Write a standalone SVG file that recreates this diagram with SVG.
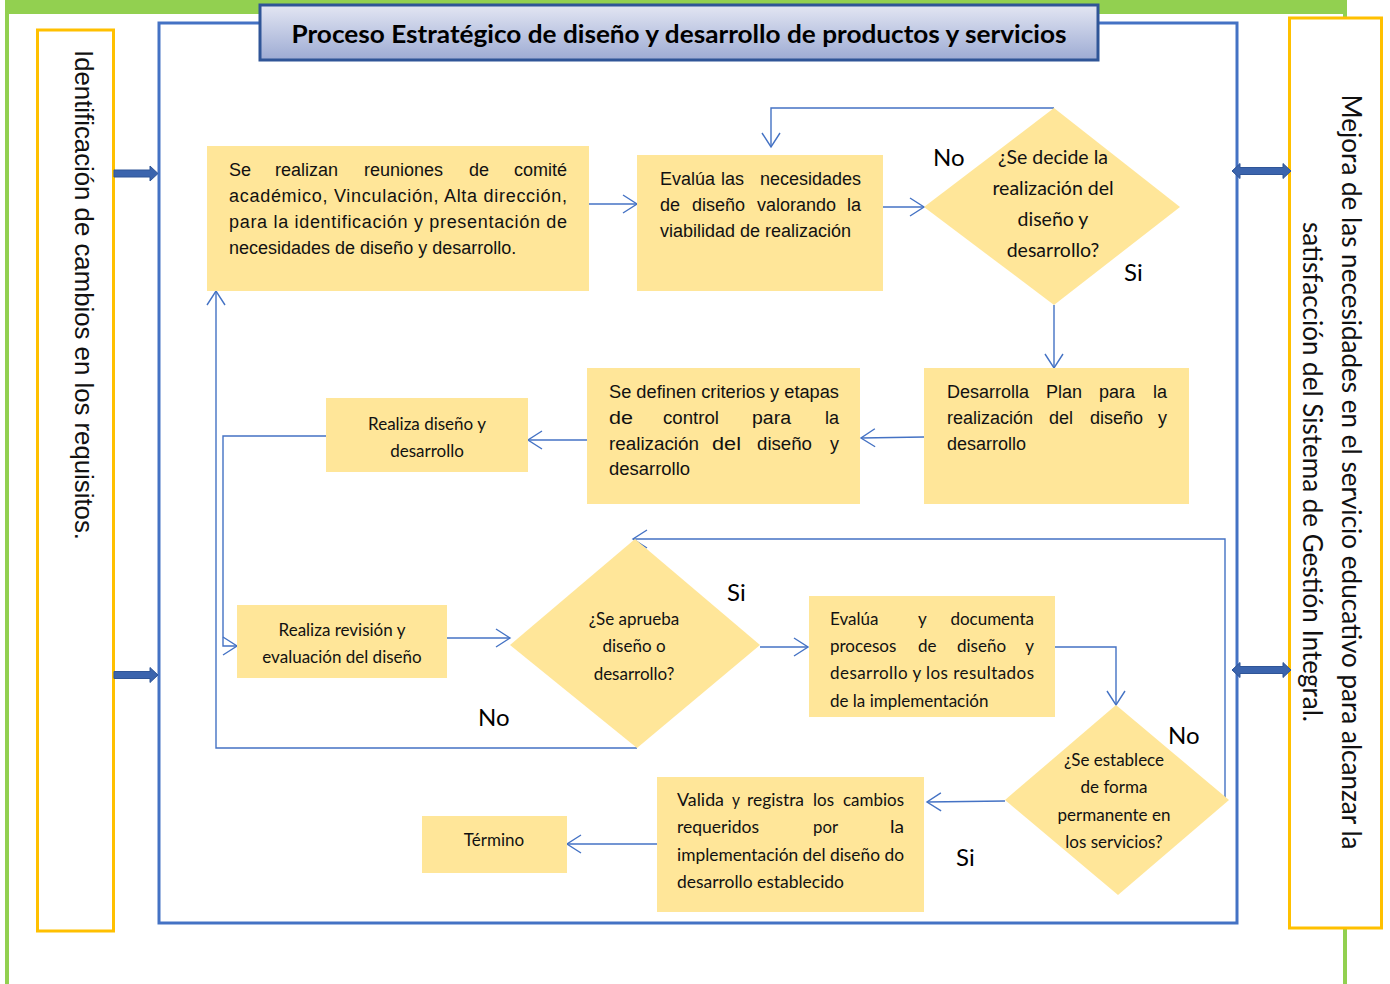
<svg xmlns="http://www.w3.org/2000/svg" width="1390" height="984" viewBox="0 0 1390 984">
<defs>
<style>
.node{fill:#FFE699;}
.conn{fill:none;stroke:#4472C4;stroke-width:1.4;marker-end:url(#arr);}
.ar{font-family:"Liberation Sans",Arial,sans-serif;font-size:18px;fill:#111;}
.ca{font-family:Lato,"Open Sans",sans-serif;font-size:17px;fill:#111;}
.lbl{font-family:Lato,"Open Sans",sans-serif;font-size:24px;fill:#000;}
.side{fill:#fff;stroke:#FFC000;stroke-width:3;}
.thick{fill:#3B64AD;stroke:#2F5597;stroke-width:1;}
</style>
<linearGradient id="tg" x1="0" y1="0" x2="0" y2="1">
<stop offset="0" stop-color="#E3E6F3"/>
<stop offset="1" stop-color="#9DABD3"/>
</linearGradient>
<marker id="arr" markerUnits="userSpaceOnUse" markerWidth="18" markerHeight="22" refX="15" refY="11" orient="auto">
<path d="M1,2 L15,11 L1,20" fill="none" stroke="#4472C4" stroke-width="1.4"/>
</marker>
<clipPath id="evclip"><rect x="809" y="596" width="246" height="121"/></clipPath>
</defs>

<g id="frame">
<rect x="5" y="0" width="1342" height="14" fill="#92D050"/>
<rect x="5" y="0" width="4" height="984" fill="#92D050"/>
<rect x="1343" y="0" width="4" height="984" fill="#92D050"/>
<rect x="159" y="23" width="1078" height="900" fill="none" stroke="#4472C4" stroke-width="3"/>
</g>

<g id="side-left">
<rect class="side" x="37.5" y="30" width="76" height="901"/>
<text class="ar" style="font-size:26px" transform="translate(75,50) rotate(90)" textLength="490" lengthAdjust="spacingAndGlyphs">Identificación de cambios en los requisitos.</text>
</g>

<g id="side-right">
<rect class="side" x="1289.5" y="18" width="92" height="910"/>
<text class="ca" style="font-size:27px" text-anchor="middle" transform="translate(1342,472) rotate(90)" textLength="755" lengthAdjust="spacingAndGlyphs">Mejora de las necesidades en el servicio educativo para alcanzar la</text>
<text class="ca" style="font-size:27px" text-anchor="middle" transform="translate(1303,472) rotate(90)" textLength="500" lengthAdjust="spacingAndGlyphs">satisfacción del Sistema de Gestión Integral.</text>
</g>

<g id="title">
<rect x="260" y="5" width="838" height="55" fill="url(#tg)" stroke="#2F5597" stroke-width="3"/>
<text x="679" y="43" text-anchor="middle" font-family="Lato, 'Open Sans', sans-serif" font-weight="bold" font-size="25" fill="#000" textLength="775" lengthAdjust="spacingAndGlyphs">Proceso Estratégico de diseño y desarrollo de productos y servicios</text>
</g>

<g id="side-arrows">
<polygon class="thick" points="114,170 150,170 150,166 158,173.5 150,181 150,177 114,177"/>
<polygon class="thick" points="114,671.5 150,671.5 150,667.5 158,675 150,682.5 150,678.5 114,678.5"/>
<polygon class="thick" points="1232,171 1240,163.5 1240,167.5 1283,167.5 1283,163.5 1291,171 1283,178.5 1283,174.5 1240,174.5 1240,178.5"/>
<polygon class="thick" points="1232,670 1240,662.5 1240,666.5 1283,666.5 1283,662.5 1291,670 1283,677.5 1283,673.5 1240,673.5 1240,677.5"/>
</g>

<g id="connectors">
<line class="conn" x1="589" y1="204" x2="637" y2="204"/>
<line class="conn" x1="883" y1="207" x2="924" y2="207"/>
<polyline class="conn" points="1054,108 771,108 771,147"/>
<line class="conn" x1="1054" y1="305" x2="1054" y2="368"/>
<line class="conn" x1="924" y1="437" x2="861" y2="438"/>
<line class="conn" x1="587" y1="440" x2="528" y2="440"/>
<polyline class="conn" points="326,436 223,436 223,646 237,646"/>
<line class="conn" x1="447" y1="638" x2="510" y2="638"/>
<polyline class="conn" points="637,748 216,748 216,291"/>
<line class="conn" x1="760" y1="647" x2="808" y2="647"/>
<polyline class="conn" points="1055,647 1116,647 1116,705"/>
<polyline class="conn" points="1225,802 1225,539 633,539"/>
<line class="conn" x1="1005" y1="801" x2="927" y2="802"/>
<line class="conn" x1="657" y1="844" x2="567" y2="844"/>
</g>

<g id="n-reuniones">
<rect class="node" x="207" y="146" width="382" height="145"/>
<text class="ar" y="176"><tspan x="229">Se</tspan><tspan x="275">realizan</tspan><tspan x="364">reuniones</tspan><tspan x="469">de</tspan><tspan x="567" text-anchor="end">comité</tspan></text>
<text class="ar" x="229" y="202" textLength="338" lengthAdjust="spacing">académico, Vinculación, Alta dirección,</text>
<text class="ar" x="229" y="228" textLength="338" lengthAdjust="spacing">para la identificación y presentación de</text>
<text class="ar" x="229" y="254">necesidades de diseño y desarrollo.</text>
</g>

<g id="n-evalua">
<rect class="node" x="637" y="155" width="246" height="136"/>
<text class="ar" y="185"><tspan x="660">Evalúa</tspan><tspan x="721">las</tspan><tspan x="861" text-anchor="end">necesidades</tspan></text>
<text class="ar" y="211"><tspan x="660">de</tspan><tspan x="692">diseño</tspan><tspan x="757">valorando</tspan><tspan x="861" text-anchor="end">la</tspan></text>
<text class="ar" x="660" y="237">viabilidad de realización</text>
</g>

<g id="n-decide">
<polygon class="node" points="1054,108 1180,207 1054,305 924,207"/>
<text class="ca" style="font-size:19.5px" text-anchor="middle"><tspan x="1053" y="164">¿Se decide la</tspan><tspan x="1053" y="195">realización del</tspan><tspan x="1053" y="226">diseño y</tspan><tspan x="1053" y="257">desarrollo?</tspan></text>
</g>

<g id="n-plan">
<rect class="node" x="924" y="368" width="265" height="136"/>
<text class="ar" y="398"><tspan x="947">Desarrolla</tspan><tspan x="1046">Plan</tspan><tspan x="1099">para</tspan><tspan x="1167" text-anchor="end">la</tspan></text>
<text class="ar" y="424"><tspan x="947">realización</tspan><tspan x="1049">del</tspan><tspan x="1090">diseño</tspan><tspan x="1167" text-anchor="end">y</tspan></text>
<text class="ar" x="947" y="450">desarrollo</text>
</g>

<g id="n-criterios">
<rect class="node" x="587" y="368" width="273" height="136"/>
<text class="ar" x="609" y="398" textLength="230" lengthAdjust="spacingAndGlyphs">Se definen criterios y etapas</text>
<text class="ar" y="424"><tspan x="609" textLength="24" lengthAdjust="spacingAndGlyphs">de</tspan><tspan x="663" textLength="56" lengthAdjust="spacingAndGlyphs">control</tspan><tspan x="752" textLength="39" lengthAdjust="spacingAndGlyphs">para</tspan><tspan x="825" textLength="14" lengthAdjust="spacingAndGlyphs">la</tspan></text>
<text class="ar" y="450"><tspan x="609" textLength="90" lengthAdjust="spacingAndGlyphs">realización</tspan><tspan x="712" textLength="29" lengthAdjust="spacingAndGlyphs">del</tspan><tspan x="757" textLength="55" lengthAdjust="spacingAndGlyphs">diseño</tspan><tspan x="830" textLength="9" lengthAdjust="spacingAndGlyphs">y</tspan></text>
<text class="ar" x="609" y="475" textLength="81" lengthAdjust="spacingAndGlyphs">desarrollo</text>
</g>

<g id="n-realiza">
<rect class="node" x="326" y="398" width="202" height="74"/>
<text class="ca" text-anchor="middle"><tspan x="427" y="430">Realiza diseño y</tspan><tspan x="427" y="457">desarrollo</tspan></text>
</g>

<g id="n-revision">
<rect class="node" x="237" y="605" width="210" height="73"/>
<text class="ca" text-anchor="middle"><tspan x="342" y="636">Realiza revisión y</tspan><tspan x="342" y="663">evaluación del diseño</tspan></text>
</g>

<g id="n-aprueba">
<polygon class="node" points="635,539 760,645 637,748 510,645"/>
<text class="ca" text-anchor="middle"><tspan x="634" y="625">¿Se aprueba</tspan><tspan x="634" y="652">diseño o</tspan><tspan x="634" y="680">desarrollo?</tspan></text>
</g>

<g id="n-documenta">
<rect class="node" x="809" y="596" width="246" height="121"/>
<g clip-path="url(#evclip)">
<text class="ca" y="625"><tspan x="830">Evalúa</tspan><tspan x="918">y</tspan><tspan x="1034" text-anchor="end">documenta</tspan></text>
<text class="ca" y="652"><tspan x="830">procesos</tspan><tspan x="918">de</tspan><tspan x="957">diseño</tspan><tspan x="1034" text-anchor="end">y</tspan></text>
<text class="ca" x="830" y="679" textLength="204" lengthAdjust="spacing">desarrollo y los resultados</text>
<text class="ca" x="830" y="707">de la implementación</text>
</g>
</g>

<g id="n-establece">
<polygon class="node" points="1116,705 1229,800 1118,895 1005,800"/>
<text class="ca" text-anchor="middle"><tspan x="1114" y="766">¿Se establece</tspan><tspan x="1114" y="793">de forma</tspan><tspan x="1114" y="821">permanente en</tspan><tspan x="1114" y="848">los servicios?</tspan></text>
</g>

<g id="n-valida">
<rect class="node" x="657" y="777" width="267" height="135"/>
<text class="ca" y="806"><tspan x="677" textLength="47" lengthAdjust="spacingAndGlyphs">Valida</tspan><tspan x="732" textLength="8" lengthAdjust="spacingAndGlyphs">y</tspan><tspan x="747" textLength="57" lengthAdjust="spacingAndGlyphs">registra</tspan><tspan x="813" textLength="21" lengthAdjust="spacingAndGlyphs">los</tspan><tspan x="843" textLength="61" lengthAdjust="spacingAndGlyphs">cambios</tspan></text>
<text class="ca" y="833"><tspan x="677" textLength="82" lengthAdjust="spacingAndGlyphs">requeridos</tspan><tspan x="813" textLength="25" lengthAdjust="spacingAndGlyphs">por</tspan><tspan x="890" textLength="14" lengthAdjust="spacingAndGlyphs">la</tspan></text>
<text class="ca" x="677" y="861" textLength="227" lengthAdjust="spacingAndGlyphs">implementación del diseño do</text>
<text class="ca" x="677" y="888" textLength="167" lengthAdjust="spacingAndGlyphs">desarrollo establecido</text>
</g>

<g id="n-termino">
<rect class="node" x="422" y="816" width="145" height="57"/>
<text class="ca" x="494" y="846" text-anchor="middle">Término</text>
</g>

<g id="labels">
<text class="lbl" x="933" y="166">No</text>
<text class="lbl" x="1124" y="281">Si</text>
<text class="lbl" x="727" y="601">Si</text>
<text class="lbl" x="478" y="726">No</text>
<text class="lbl" x="1168" y="744">No</text>
<text class="lbl" x="956" y="866">Si</text>
</g>
</svg>
